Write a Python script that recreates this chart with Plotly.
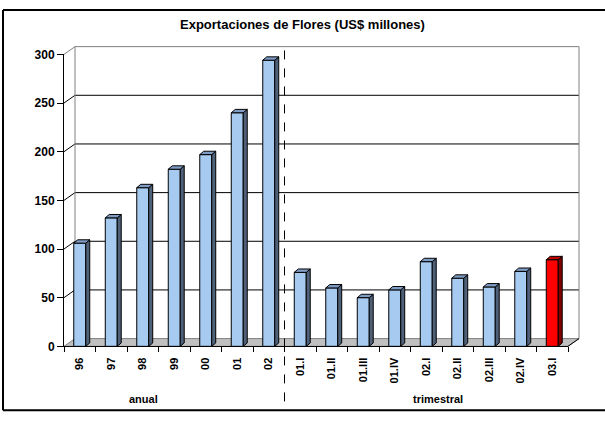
import plotly.graph_objects as go

# ---- data ----
categories = ["96", "97", "98", "99", "00", "01", "02",
              "01.I", "01.II", "01.III", "01.IV", "02.I", "02.II", "02.III", "02.IV", "03.I"]
values = [106, 132, 163, 182, 197, 240, 294,
          76, 60, 50, 58, 87, 70, 61, 77, 89]
y_ticks = [0, 50, 100, 150, 200, 250, 300]
group_labels = ["anual", "trimestral"]
title_text = "Exportaciones de Flores (US$ millones)"

# ---- styling ----
front_colors = ["#a6caf0"] * 15 + ["#ff0000"]
side_colors = ["#4f6079"] * 15 + ["#800000"]
top_colors = ["#7f9cc4"] * 15 + ["#c00000"]

W, H = 605, 421
FX0, FX1, FYT, FYB = 64, 568, 49, 351   # front plane (px)
BDX, BDY = 3, 2                          # bar plane offset (px)
WDX, WDY = 11, 8                         # back wall offset (px)
YMAX = 300
n = len(categories)
BARW = 0.38
FONT = "Arial, Liberation Sans, sans-serif"


def px(x):
    return x / W


def py(y):
    return (H - y) / H


def vy(v, off=0):
    return FYB - off - v * (FYB - FYT) / YMAX


cat_px = (FX1 - FX0) / n
ddx = 4 / cat_px
ddy = 3.5 * YMAX / (FYB - FYT)

fig = go.Figure()
# invisible trace so that the front axes are drawn
fig.add_trace(go.Scatter(
    x=list(range(n)), y=[0] * n, mode="markers", marker=dict(opacity=0),
    xaxis="x", yaxis="y", hoverinfo="skip", showlegend=False,
))
fig.add_trace(go.Bar(
    x=list(range(n)), y=values, width=BARW,
    marker=dict(color=front_colors, line=dict(color="#000000", width=1)),
    xaxis="x2", yaxis="y2", hoverinfo="skip", showlegend=False,
))

shapes = []
# floor
shapes.append(dict(type="path", xref="paper", yref="paper", layer="below",
                   path=f"M {px(FX0)},{py(FYB)} L {px(FX1)},{py(FYB)} L {px(FX1+WDX)},{py(FYB-WDY)} L {px(FX0+WDX)},{py(FYB-WDY)} Z",
                   fillcolor="#c0c0c0", line=dict(color="#808080", width=1)))
# back wall gridlines and side wall diagonals
for v in y_ticks:
    if v == 0:
        continue
    col = "#808080" if v == YMAX else "#000000"
    shapes.append(dict(type="line", xref="paper", yref="paper", layer="below",
                       x0=px(FX0 + WDX), x1=px(FX1 + WDX), y0=py(vy(v, WDY)), y1=py(vy(v, WDY)),
                       line=dict(color=col, width=1)))
    shapes.append(dict(type="line", xref="paper", yref="paper", layer="below",
                       x0=px(FX0), x1=px(FX0 + WDX), y0=py(vy(v)), y1=py(vy(v, WDY)),
                       line=dict(color=col, width=1)))
# wall edges
for xx in (FX0 + WDX, FX1 + WDX):
    shapes.append(dict(type="line", xref="paper", yref="paper", layer="below",
                       x0=px(xx), x1=px(xx), y0=py(vy(0, WDY)), y1=py(vy(YMAX, WDY)),
                       line=dict(color="#808080", width=1)))
shapes.append(dict(type="line", xref="paper", yref="paper",
                   x0=px(FX1), x1=px(FX1 + WDX), y0=py(FYB), y1=py(FYB - WDY),
                   line=dict(color="#000000", width=1)))
# bar side and top faces
for i, v in enumerate(values):
    xr = i + BARW / 2
    xl = i - BARW / 2
    shapes.append(dict(type="path", xref="x2", yref="y2",
                       path=f"M {xr},0 L {xr+ddx},{ddy} L {xr+ddx},{v+ddy} L {xr},{v} Z",
                       fillcolor=side_colors[i], line=dict(color="#000000", width=1)))
    shapes.append(dict(type="path", xref="x2", yref="y2",
                       path=f"M {xl},{v} L {xr},{v} L {xr+ddx},{v+ddy} L {xl+ddx},{v+ddy} Z",
                       fillcolor=top_colors[i], line=dict(color="#000000", width=1)))
# dashed separator
shapes.append(dict(type="line", xref="x2", yref="paper", x0=6.5, x1=6.5,
                   y0=py(408), y1=py(38), line=dict(color="#000000", width=1, dash="dash")))
# outer frame: left, top and bottom edges (right edge lies outside the picture)
for (xa, ya, xb, yb) in [(3, 3, 3, 417), (3, 3, W, 3), (3, 417, W, 417)]:
    shapes.append(dict(type="line", xref="paper", yref="paper",
                       x0=px(xa), y0=py(ya), x1=px(xb), y1=py(yb),
                       line=dict(color="#000000", width=2)))

annotations = [
    dict(text=f"<b>{title_text}</b>", x=px(302), y=py(18), xref="paper", yref="paper",
         showarrow=False, font=dict(family=FONT, size=13, color="#000000"),
         xanchor="center", yanchor="middle"),
    dict(text=f"<b>{group_labels[0]}</b>", x=px(143), y=py(405), xref="paper", yref="paper",
         showarrow=False, font=dict(family=FONT, size=11, color="#000000"),
         xanchor="center", yanchor="middle"),
    dict(text=f"<b>{group_labels[1]}</b>", x=px(438), y=py(405), xref="paper", yref="paper",
         showarrow=False, font=dict(family=FONT, size=11, color="#000000"),
         xanchor="center", yanchor="middle"),
]

fig.update_layout(
    width=W, height=H,
    margin=dict(l=0, r=0, t=0, b=0),
    paper_bgcolor="#ffffff", plot_bgcolor="rgba(0,0,0,0)",
    font=dict(family=FONT, color="#000000"),
    showlegend=False,
    shapes=shapes, annotations=annotations,
    xaxis=dict(domain=[px(FX0), px(FX1)], range=[-0.5, n - 0.5],
               tickmode="array", tickvals=list(range(n)), ticktext=categories,
               tickangle=-90, ticks="outside", ticklen=6, tickcolor="rgba(0,0,0,0)",
               tickfont=dict(family=FONT, size=11, weight="bold"),
               minor=dict(ticks="outside", ticklen=5, tickcolor="#000000", tick0=-0.5, dtick=1, showgrid=False),
               showline=True, linecolor="#000000", linewidth=1,
               showgrid=False, zeroline=False, fixedrange=True),
    yaxis=dict(domain=[py(FYB), py(FYT)], range=[0, YMAX],
               tickmode="array", tickvals=y_ticks,
               ticks="outside", ticklen=6, tickcolor="#000000",
               tickfont=dict(family=FONT, size=12, weight="bold"),
               showline=True, linecolor="#000000", linewidth=1,
               showgrid=False, zeroline=False, fixedrange=True),
    xaxis2=dict(domain=[px(FX0 + BDX), px(FX1 + BDX)], range=[-0.5, n - 0.5],
                anchor="y2", overlaying="x", visible=False, fixedrange=True),
    yaxis2=dict(domain=[py(FYB - BDY), py(FYT - BDY)], range=[0, YMAX],
                anchor="x2", overlaying="y", visible=False, fixedrange=True),
)

fig.write_html(
    "out.html",
    config={"displayModeBar": False},
    post_script="document.body.style.margin='0';",
)
